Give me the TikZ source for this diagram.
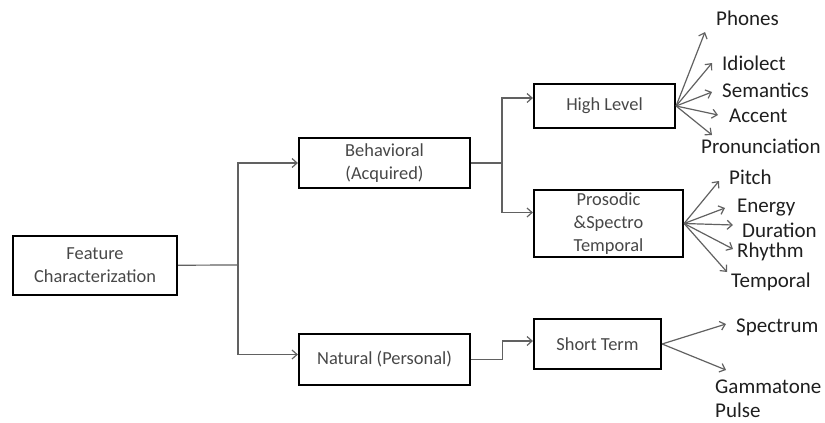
\documentclass[tikz,border=0pt]{standalone}
\usepackage{fontspec}
\setmainfont{Carlito}
\usetikzlibrary{positioning, arrows.meta}
\tikzstyle{blk}=[draw, line width=2.2pt, align=center, text=black!72, font=\fontsize{18.4}{23}\selectfont, inner sep=0pt]
\tikzstyle{lbl}=[anchor=west, inner sep=0pt, text=black!88, font=\fontsize{21}{24}\selectfont]
\tikzstyle{wire}=[draw=black!62, line width=1.2pt]

\begin{document}
\begin{tikzpicture}[x=1pt, y=-1pt, > = {Straight Barb[length=5pt, width=9pt]}]
                    \useasboundingbox (0,0) rectangle (825,423);
                    % boxes
                    \node [blk, minimum width=164pt, minimum height=59pt] (fc) at (95,265.5) {Feature\\Characterization};
                    \node [blk, minimum width=171pt, minimum height=50pt] (beh) at (384.5,163) {Behavioral\\(Acquired)};
                    \node [blk, minimum width=171pt, minimum height=51pt] (nat) at (384.5,359.5) {Natural (Personal)};
                    \node [blk, minimum width=141pt, minimum height=44pt] (hl) at (604.5,106) {High Level};
                    \node [blk, minimum width=149pt, minimum height=67pt] (pro) at (608.5,223.5) {Prosodic\\\&Spectro\\Temporal};
                    \node [blk, minimum width=127pt, minimum height=50pt] (st) at (597.5,344) {Short Term};
                    \coordinate (j1) at (238,265);
                    \coordinate (j2) at (502,163);
                    % labels
                    \node [lbl] (ph) at (716,18) {Phones};
                    \node [lbl] (id) at (722,63) {Idiolect};
                    \node [lbl] (se) at (722,90) {Semantics};
                    \node [lbl] (ac) at (729,116) {Accent};
                    \node [lbl] (pr) at (701,146) {Pronunciation};
                    \node [lbl] (pi) at (729,177) {Pitch};
                    \node [lbl] (en) at (737,208) {Energy};
                    \node [lbl] (du) at (742,230) {Duration};
                    \node [lbl] (rh) at (737,252) {Rhythm};
                    \node [lbl] (te) at (731,282) {Temporal};
                    \node [lbl] (sp) at (736,327) {Spectrum};
                    \node [lbl, align=left] (gp) at (715,399) {Gammatone\\Pulse};
                    % tree
                    \draw [wire] (fc) -- (j1);
                    \draw [wire, ->] (j1) |- (beh);
                    \draw [wire, ->] (j1) |- ([yshift=5pt]nat.west);
                    \draw [wire] (beh) -- (j2);
                    \draw [wire, ->] (j2) |- ([yshift=8pt]hl.west);
                    \draw [wire, ->] (j2) |- ([yshift=11pt]pro.west);
                    \draw [wire, ->] (nat.east) -- ++(31,0) |- ([yshift=3pt]st.west);
                    % fans
                    \draw [wire, ->] (hl.east) -- ([shift={(-11,14)}]ph.west);
                    \draw [wire, ->] (hl.east) -- ([shift={(-10,0)}]id.west);
                    \draw [wire, ->] (hl.east) -- ([shift={(-10,2)}]se.west);
                    \draw [wire, ->] (hl.east) -- ([shift={(-11,-1)}]ac.west);
                    \draw [wire, ->] (hl.east) -- ([shift={(11,-11)}]pr.west);
                    \draw [wire, ->] (pro.east) -- ([shift={(-10,4)}]pi.west);
                    \draw [wire, ->] (pro.east) -- ([shift={(-12,0)}]en.west);
                    \draw [wire, ->] (pro.east) -- ([shift={(-9,-5)}]du.west);
                    \draw [wire, ->] (pro.east) -- ([shift={(-4,-3)}]rh.west);
                    \draw [wire, ->] (pro.east) -- ([shift={(-4,-10)}]te.west);
                    \draw [wire, ->] (st.east) -- ([shift={(-10,-3)}]sp.west);
                    \draw [wire, ->] (st.east) -- ([shift={(11,-29)}]gp.west);
                \end{tikzpicture}
\end{document}
